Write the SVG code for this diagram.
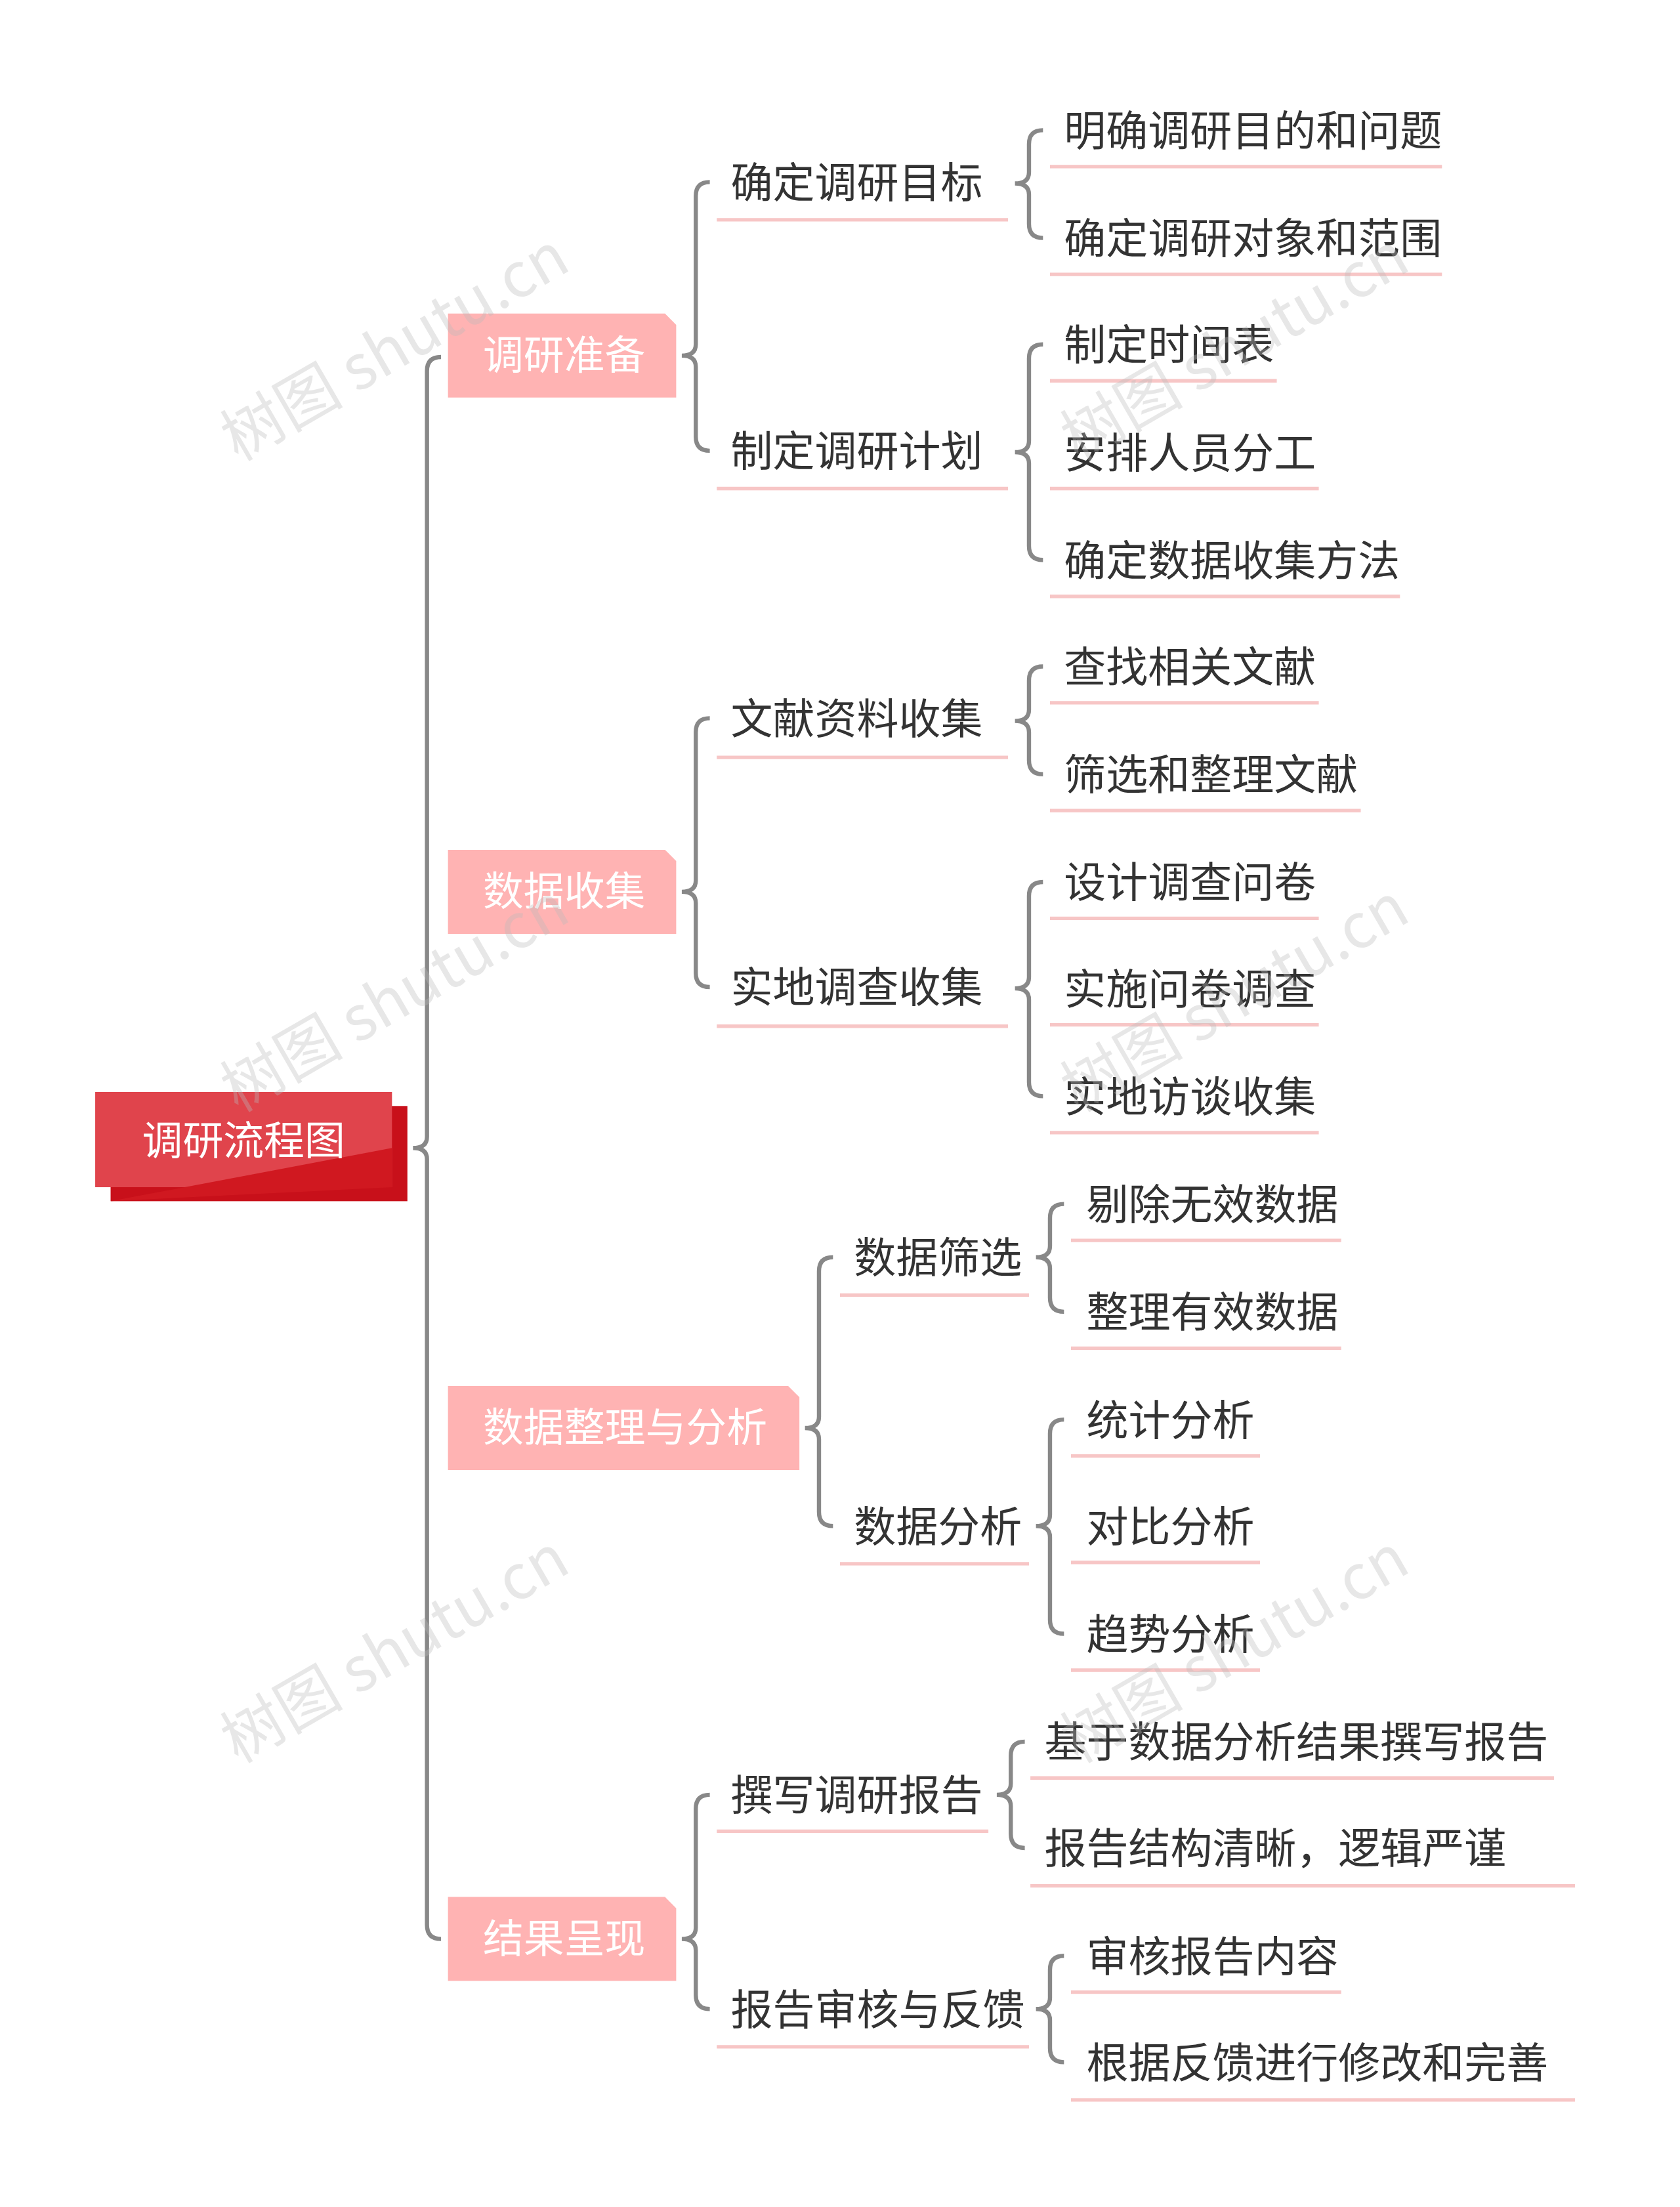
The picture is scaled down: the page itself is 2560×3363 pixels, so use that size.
<svg xmlns="http://www.w3.org/2000/svg" width="2560" height="3363" viewBox="0 0 2560 3363">
<style>
.t{font-family:"Noto Sans CJK SC",sans-serif;font-size:30px;fill:#333}
.w{font-family:"Noto Sans CJK SC",sans-serif;font-size:29px;fill:#fff}
.ul{stroke:#f7c6c6;stroke-width:2.5}
.br{fill:none;stroke:#888;stroke-width:3}
.wm{font-family:"Noto Sans CJK SC",sans-serif;font-size:44px;fill:#bbb;opacity:0.35}
.box{fill:#ffb3b3}
</style>
<rect width="2560" height="3363" fill="#fff"/>
<g transform="scale(2.1333)">
<g id="connectors">
<path class="br" d="M315,255 Q305,255 305,265 L305,812 Q305,820 295,820 Q305,820 305,828 L305,1375 Q305,1385 315,1385"/>
<path class="br" d="M507,130 Q497,130 497,140 L497,246 Q497,254 487,254 Q497,254 497,262 L497,312 Q497,322 507,322"/>
<path class="br" d="M745,93 Q735,93 735,103 L735,123 Q735,131 725,131 Q735,131 735,139 L735,160 Q735,170 745,170"/>
<path class="br" d="M745,246 Q735,246 735,256 L735,315 Q735,323 725,323 Q735,323 735,331 L735,390 Q735,400 745,400"/>
<path class="br" d="M507,513 Q497,513 497,523 L497,629 Q497,637 487,637 Q497,637 497,645 L497,695 Q497,705 507,705"/>
<path class="br" d="M745,476 Q735,476 735,486 L735,507 Q735,515 725,515 Q735,515 735,523 L735,543 Q735,553 745,553"/>
<path class="br" d="M745,630 Q735,630 735,640 L735,698 Q735,706 725,706 Q735,706 735,714 L735,773 Q735,783 745,783"/>
<path class="br" d="M595,898 Q585,898 585,908 L585,1012 Q585,1020 575,1020 Q585,1020 585,1028 L585,1080 Q585,1090 595,1090"/>
<path class="br" d="M760,860 Q750,860 750,870 L750,890 Q750,898 740,898 Q750,898 750,906 L750,927 Q750,937 760,937"/>
<path class="br" d="M760,1014 Q750,1014 750,1024 L750,1082 Q750,1090 740,1090 Q750,1090 750,1098 L750,1157 Q750,1167 760,1167"/>
<path class="br" d="M507,1282 Q497,1282 497,1292 L497,1377 Q497,1385 487,1385 Q497,1385 497,1393 L497,1425 Q497,1435 507,1435"/>
<path class="br" d="M732,1244 Q722,1244 722,1254 L722,1274 Q722,1282 712,1282 Q722,1282 722,1290 L722,1310 Q722,1320 732,1320"/>
<path class="br" d="M760,1397 Q750,1397 750,1407 L750,1427 Q750,1435 740,1435 Q750,1435 750,1443 L750,1463 Q750,1473 760,1473"/>
</g>
<g id="root">
<rect x="79" y="790" width="212" height="68" fill="#c8101a"/>
<rect x="68" y="780" width="212" height="68" fill="#e0444c"/>
<path d="M79,858 L280,820 L280,848 Z" fill="#d01820"/>
<text class="w" x="174" y="825" text-anchor="middle" font-size="31">调研流程图</text>
</g>
<g id="n1"><path class="box" d="M320,224 L475,224 L483,232 L483,284 L320,284 Z"/><text class="w" x="345" y="264">调研准备</text></g>
<g id="n2"><path class="box" d="M320,607 L475,607 L483,615 L483,667 L320,667 Z"/><text class="w" x="345" y="647">数据收集</text></g>
<g id="n3"><path class="box" d="M320,990 L563,990 L571,998 L571,1050 L320,1050 Z"/><text class="w" x="345" y="1030">数据整理与分析</text></g>
<g id="n4"><path class="box" d="M320,1355 L475,1355 L483,1363 L483,1415 L320,1415 Z"/><text class="w" x="345" y="1395">结果呈现</text></g>
<g id="l2">
<g id="a1"><text class="t" x="522" y="141">确定调研目标</text><line class="ul" x1="512" y1="157" x2="720" y2="157"/></g>
<g id="a2"><text class="t" x="522" y="333">制定调研计划</text><line class="ul" x1="512" y1="349" x2="720" y2="349"/></g>
<g id="a3"><text class="t" x="522" y="524">文献资料收集</text><line class="ul" x1="512" y1="541" x2="720" y2="541"/></g>
<g id="a4"><text class="t" x="522" y="716">实地调查收集</text><line class="ul" x1="512" y1="733" x2="720" y2="733"/></g>
<g id="a5"><text class="t" x="610" y="909">数据筛选</text><line class="ul" x1="600" y1="925" x2="735" y2="925"/></g>
<g id="a6"><text class="t" x="610" y="1101">数据分析</text><line class="ul" x1="600" y1="1117" x2="735" y2="1117"/></g>
<g id="a7"><text class="t" x="522" y="1293">撰写调研报告</text><line class="ul" x1="512" y1="1308" x2="706" y2="1308"/></g>
<g id="a8"><text class="t" x="522" y="1446">报告审核与反馈</text><line class="ul" x1="512" y1="1462" x2="735" y2="1462"/></g>
</g>
<g id="l3">
<g id="b1"><text class="t" x="760" y="104">明确调研目的和问题</text><line class="ul" x1="750" y1="119" x2="1030" y2="119"/></g>
<g id="b2"><text class="t" x="760" y="181">确定调研对象和范围</text><line class="ul" x1="750" y1="196" x2="1030" y2="196"/></g>
<g id="b3"><text class="t" x="760" y="257">制定时间表</text><line class="ul" x1="750" y1="272" x2="912" y2="272"/></g>
<g id="b4"><text class="t" x="760" y="334">安排人员分工</text><line class="ul" x1="750" y1="349" x2="942" y2="349"/></g>
<g id="b5"><text class="t" x="760" y="411">确定数据收集方法</text><line class="ul" x1="750" y1="426" x2="1000" y2="426"/></g>
<g id="b6"><text class="t" x="760" y="487">查找相关文献</text><line class="ul" x1="750" y1="502" x2="942" y2="502"/></g>
<g id="b7"><text class="t" x="760" y="564">筛选和整理文献</text><line class="ul" x1="750" y1="579" x2="972" y2="579"/></g>
<g id="b8"><text class="t" x="760" y="641">设计调查问卷</text><line class="ul" x1="750" y1="656" x2="942" y2="656"/></g>
<g id="b9"><text class="t" x="760" y="717">实施问卷调查</text><line class="ul" x1="750" y1="732" x2="942" y2="732"/></g>
<g id="b10"><text class="t" x="760" y="794">实地访谈收集</text><line class="ul" x1="750" y1="809" x2="942" y2="809"/></g>
<g id="b11"><text class="t" x="776" y="871">剔除无效数据</text><line class="ul" x1="765" y1="886" x2="958" y2="886"/></g>
<g id="b12"><text class="t" x="776" y="948">整理有效数据</text><line class="ul" x1="765" y1="963" x2="958" y2="963"/></g>
<g id="b13"><text class="t" x="776" y="1025">统计分析</text><line class="ul" x1="765" y1="1040" x2="900" y2="1040"/></g>
<g id="b14"><text class="t" x="776" y="1101">对比分析</text><line class="ul" x1="765" y1="1116" x2="900" y2="1116"/></g>
<g id="b15"><text class="t" x="776" y="1178">趋势分析</text><line class="ul" x1="765" y1="1193" x2="900" y2="1193"/></g>
<g id="b16"><text class="t" x="746" y="1255">基于数据分析结果撰写报告</text><line class="ul" x1="736" y1="1270" x2="1110" y2="1270"/></g>
<g id="b17"><text class="t" x="746" y="1331">报告结构清晰，逻辑严谨</text><line class="ul" x1="736" y1="1347" x2="1125" y2="1347"/></g>
<g id="b18"><text class="t" x="776" y="1408">审核报告内容</text><line class="ul" x1="765" y1="1423" x2="958" y2="1423"/></g>
<g id="b19"><text class="t" x="776" y="1484">根据反馈进行修改和完善</text><line class="ul" x1="765" y1="1500" x2="1125" y2="1500"/></g>
</g>
<g id="watermarks">
<text class="wm" transform="translate(170,330) rotate(-30)">树图 shutu.cn</text>
<text class="wm" transform="translate(170,795) rotate(-30)">树图 shutu.cn</text>
<text class="wm" transform="translate(170,1260) rotate(-30)">树图 shutu.cn</text>
<text class="wm" transform="translate(770,330) rotate(-30)">树图 shutu.cn</text>
<text class="wm" transform="translate(770,795) rotate(-30)">树图 shutu.cn</text>
<text class="wm" transform="translate(770,1260) rotate(-30)">树图 shutu.cn</text>
</g>
</g>
</svg>
